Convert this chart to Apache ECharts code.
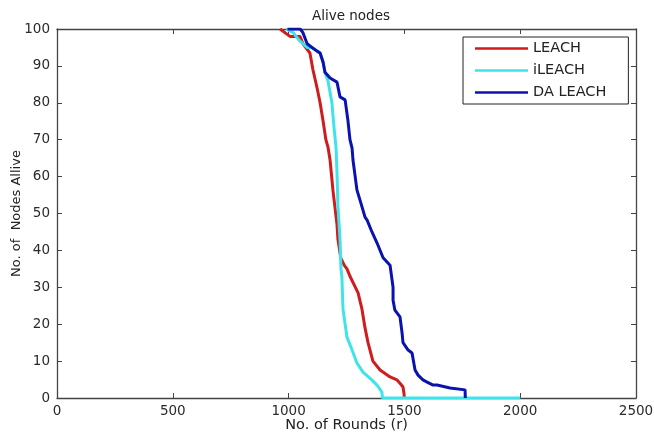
<!DOCTYPE html>
<html><head><meta charset="utf-8">
<script src="https://cdn.jsdelivr.net/npm/echarts@6/dist/echarts.min.js"></script>
<style>html,body{margin:0;padding:0;background:#fff}#c{width:654px;height:433px}</style>
</head><body><div id="c"></div>
<script>
const xTicks = [0, 500, 1000, 1500, 2000, 2500];
const yTicks = [0, 10, 20, 30, 40, 50, 60, 70, 80, 90, 100];
const seriesNames = ['LEACH', 'iLEACH', 'DA LEACH'];

const leachRounds = [963,1006,1049,1062,1092,1105,1123,1136,1149,1161,1170,1179,1192,1209,1213,1225,1240,1252,1265,1300,1317,1330,1343,1364,1395,1438,1468,1481,1494,1498,1500];
const leachAlive  = [100,98,98,96,93.5,89,84,80,75,70,68,64.5,56,47,43,38,36,35,33,28.5,24,19,15,10,7.6,5.7,4.9,4,3,1.3,0];

const ileachRounds = [990,1020,1045,1062,1080,1101,1123,1136,1149,1157,1170,1187,1196,1205,1209,1213,1222,1226,1230,1235,1252,1274,1295,1321,1351,1382,1403,1405,2000];
const ileachAlive  = [100,99,97,96,95,95,94,93.5,91,88.3,86,80,73.4,67.7,61,52,43,35,33,24,16.5,13,9.5,7,5.4,3.5,1.6,0,0];

const daRounds = [995,1050,1062,1080,1101,1123,1136,1149,1157,1179,1209,1222,1244,1256,1265,1274,1278,1295,1317,1330,1339,1360,1382,1408,1438,1451,1451,1459,1481,1490,1494,1516,1533,1546,1559,1580,1598,1624,1641,1697,1762,1763];
const daAlive  = [100,100,99,96,95,94,93.5,91,88.3,86.7,85.6,81.6,80.8,75.3,70,67.7,64.5,56.4,51.8,49,48.2,45,42,38,36,30,26.5,23.8,22,17.6,15,13,12.2,7.6,6.2,4.9,4.3,3.5,3.5,2.7,2.2,0];

const zip = (a, b) => a.map((v, i) => [v, b[i]]);
const colors = ['#d01c1c', '#3ee4ea', '#0a12b0'];
const font = 'DejaVu Sans, Verdana, sans-serif';

const chart = echarts.init(document.getElementById('c'));
const tickLabel = {color: '#2a2a2a', fontSize: 13.5, fontFamily: font, formatter: v => String(v)};
const frameLine = {onZero: false, lineStyle: {color: '#444', width: 1.3}};
const tick = {inside: true, length: 5, lineStyle: {color: '#444'}};
chart.setOption({
  animation: false,
  backgroundColor: '#fff',
  title: {text: 'Alive nodes', left: 346, textAlign: 'center', top: 4,
    textStyle: {fontSize: 13.5, fontWeight: 'normal', color: '#222', fontFamily: font}},
  grid: {left: 57, right: 18, top: 29, bottom: 35, containLabel: false, outerBoundsMode: 'none'},
  legend: {
    data: seriesNames, orient: 'vertical', left: 463, top: 37, icon: 'rect',
    backgroundColor: '#fff', borderColor: '#222', borderWidth: 1,
    padding: [4, 22, 4, 12], itemGap: 7, itemWidth: 53, itemHeight: 2.5,
    textStyle: {fontSize: 14.5, color: '#222', fontFamily: font, lineHeight: 14}
  },
  xAxis: [{
    type: 'value', min: xTicks[0], max: xTicks[xTicks.length - 1], interval: 500,
    name: 'No. of Rounds (r)', nameLocation: 'middle', nameGap: 20, nameMoveOverlap: false,
    nameTextStyle: {fontSize: 14.5, color: '#222', fontFamily: font},
    axisLine: frameLine, axisTick: tick,
    axisLabel: Object.assign({margin: 6}, tickLabel), splitLine: {show: false}
  }, {
    type: 'value', position: 'top', min: 0, max: 2500, interval: 500,
    axisLine: frameLine, axisTick: tick,
    axisLabel: {show: false}, splitLine: {show: false}
  }],
  yAxis: [{
    type: 'value', min: yTicks[0], max: yTicks[yTicks.length - 1], interval: 10,
    name: 'No. of  Nodes Allive', nameLocation: 'middle', nameGap: 34, nameRotate: 90, nameMoveOverlap: false,
    nameTextStyle: {fontSize: 13, color: '#222', fontFamily: font},
    axisLine: frameLine, axisTick: tick,
    axisLabel: Object.assign({margin: 7}, tickLabel), splitLine: {show: false}
  }, {
    type: 'value', position: 'right', min: 0, max: 100, interval: 10,
    axisLine: frameLine, axisTick: tick,
    axisLabel: {show: false}, splitLine: {show: false}
  }],
  series: [
    {name: seriesNames[0], type: 'line', data: zip(leachRounds, leachAlive), symbol: 'none',
     lineStyle: {color: colors[0], width: 3}, itemStyle: {color: colors[0]}, z: 2},
    {name: seriesNames[1], type: 'line', data: zip(ileachRounds, ileachAlive), symbol: 'none',
     lineStyle: {color: colors[1], width: 3}, itemStyle: {color: colors[1]}, z: 3},
    {name: seriesNames[2], type: 'line', data: zip(daRounds, daAlive), symbol: 'none',
     lineStyle: {color: colors[2], width: 3}, itemStyle: {color: colors[2]}, z: 4}
  ]
});
</script>
</body></html>
